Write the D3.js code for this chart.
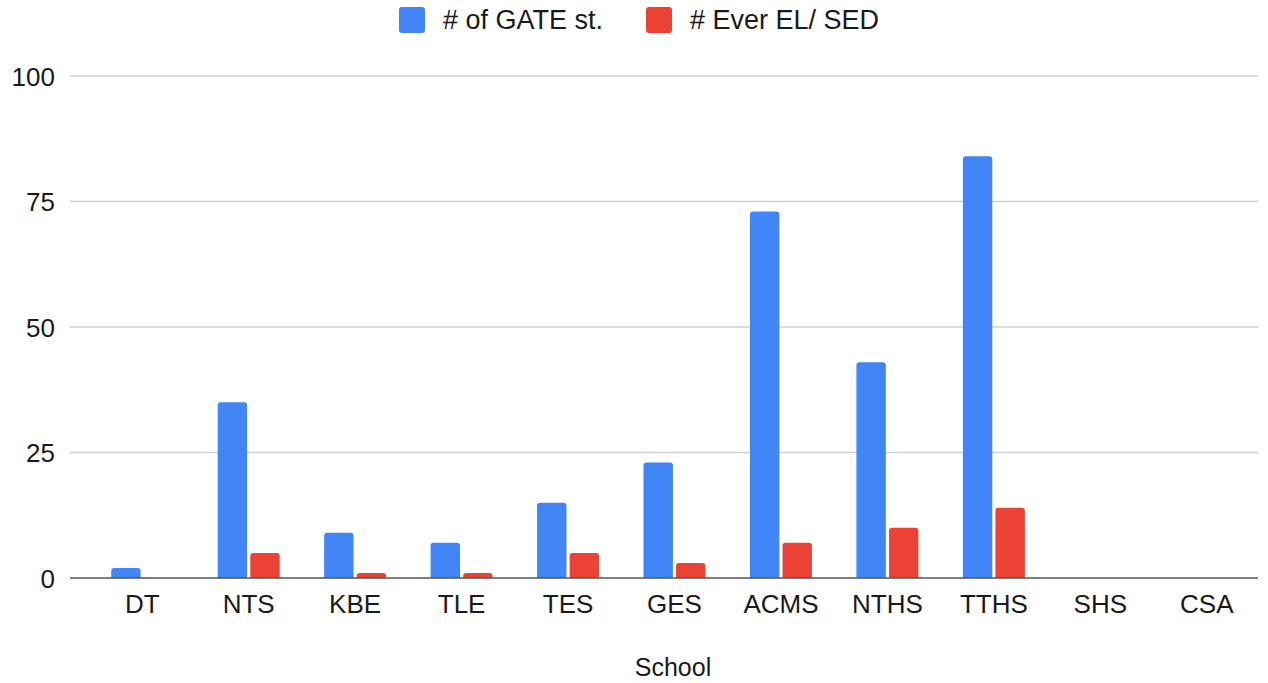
<!DOCTYPE html>
<html><head><meta charset="utf-8">
<script src="https://cdn.jsdelivr.net/npm/d3@7/dist/d3.min.js"></script>
<style>body{margin:0;background:#fff}svg{display:block}text{font-family:"Liberation Sans",Arial,sans-serif;fill:#1a1a1a}</style>
</head><body><svg id="c" width="1268" height="683"></svg>
<script>
const categories = ["DT","NTS","KBE","TLE","TES","GES","ACMS","NTHS","TTHS","SHS","CSA"];
const gateValues = [2,35,9,7,15,23,73,43,84,0,0];
const elSedValues = [0,5,1,1,5,3,7,10,14,0,0];
const seriesNames = ["# of GATE st.","# Ever EL/ SED"];
const seriesColors = ["#4285F4","#EA4335"];
const yTicks = [0,25,50,75,100];

(function(){
const svg = d3.select("#c");
const pLeft = 70, pRight = 1258, pTop = 76, pBottom = 578;
const x = d3.scaleBand().domain(categories).range([89, 1260]).paddingInner(0).paddingOuter(0);
const y = d3.scaleLinear().domain([0,100]).range([pBottom, pTop]);
const inner = d3.scaleBand().domain([0,1]).range([x.bandwidth()/2 - 31, x.bandwidth()/2 + 31]).paddingInner(6/62);

svg.append("g").selectAll("line").data(yTicks.filter(d=>d>0)).join("line")
  .attr("x1",pLeft).attr("x2",pRight).attr("y1",d=>y(d)).attr("y2",d=>y(d))
  .attr("stroke","#d0d0d0").attr("stroke-width",1.5);
const yAxis = d3.axisLeft(y).tickValues(yTicks).tickSize(0).tickPadding(0);
const gy = svg.append("g").attr("transform",`translate(${pLeft-15},0)`).call(yAxis);
gy.select(".domain").remove();
gy.selectAll("text").style("font-size","26px").attr("fill","#1a1a1a").attr("dy","0.35em");

const series = [gateValues, elSedValues];
function barPath(x0, w, y0, y1){
  const h = y1 - y0; if (h <= 0) return "";
  const r = Math.min(3, h, w/2);
  return `M${x0},${y1}V${y0+r}Q${x0},${y0} ${x0+r},${y0}H${x0+w-r}Q${x0+w},${y0} ${x0+w},${y0+r}V${y1}Z`;
}
series.forEach((vals,si)=>{
  svg.append("g").selectAll("path").data(categories.map((c,i)=>({c,v:vals[i]}))).join("path")
    .attr("fill",seriesColors[si])
    .attr("d",d=>barPath(x(d.c)+inner(si), inner.bandwidth(), y(d.v), y(0)));
});
svg.append("line").attr("x1",pLeft).attr("x2",pRight).attr("y1",y(0)).attr("y2",y(0)).attr("stroke","#555").attr("stroke-width",1.5);
const xAxis = d3.axisBottom(x).tickSize(0).tickPadding(0);
const gx = svg.append("g").attr("transform",`translate(0,${pBottom+26})`).call(xAxis);
gx.select(".domain").remove();
gx.selectAll("text").style("font-size","26px").attr("fill","#1a1a1a").attr("dy","0.35em");
svg.append("text").attr("x",673).attr("y",667).attr("dy","0.35em").attr("text-anchor","middle").style("font-size","25px").text("School");

const leg = svg.append("g");
const legX = [399, 646];
seriesNames.forEach((n,i)=>{
  leg.append("rect").attr("x",legX[i]).attr("y",7).attr("width",26).attr("height",26).attr("rx",3).attr("fill",seriesColors[i]);
  leg.append("text").attr("x",legX[i]+44).attr("y",20).attr("dy","0.35em").style("font-size","27px").text(n);
});
})();
</script></body></html>
